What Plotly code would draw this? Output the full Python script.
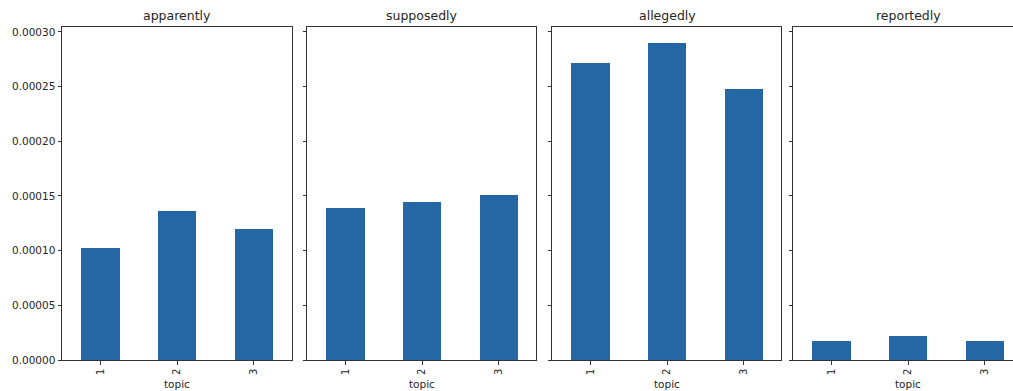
import plotly.graph_objects as go

# Relative frequency of each hedge word per topic
topics = ["1", "2", "3"]
words = ["apparently", "supposedly", "allegedly", "reportedly"]
apparently = [0.0001024, 0.0001363, 0.0001198]
supposedly = [0.0001390, 0.0001445, 0.0001509]
allegedly = [0.0002716, 0.0002895, 0.0002479]
reportedly = [0.0000174, 0.0000220, 0.0000174]
series = [apparently, supposedly, allegedly, reportedly]

y_ticks = [0, 0.00005, 0.0001, 0.00015, 0.0002, 0.00025, 0.0003]

W, H = 1013, 391
M_T, M_B = 27, 31
# panel edges in pixels
panels = [(62, 292), (307, 536), (552, 781), (793, 1013)]
unit_px = 230 / 3.0  # pixels per category step

BAR = "#2467a4"
LINE = "#333333"
TXT = "#262626"
FONT = "DejaVu Sans"

fig = go.Figure()
layout = dict(
    width=W, height=H, autosize=False,
    margin=dict(l=0, r=0, t=M_T, b=M_B),
    paper_bgcolor="white", plot_bgcolor="white",
    showlegend=False, bargap=0,
    font=dict(family=FONT, color=TXT),
)
annotations = []
xs = list(range(len(topics)))
for i, (vals, (x0, x1)) in enumerate(zip(series, panels)):
    n = "" if i == 0 else str(i + 1)
    fig.add_trace(go.Bar(x=xs, y=vals, width=0.5, marker_color=BAR,
                         marker_line_width=0, xaxis="x" + n, yaxis="y" + n,
                         hoverinfo="skip"))
    span = (x1 - x0) / unit_px
    layout["xaxis" + n] = dict(
        domain=[x0 / W, x1 / W], anchor="y" + n,
        range=[-0.5, -0.5 + span], tickvals=xs, ticktext=topics,
        tickangle=-90, ticks="outside", ticklen=3.5, tickwidth=0.8,
        tickcolor=LINE, showline=True, linecolor=LINE, linewidth=1,
        mirror=True, showgrid=False, zeroline=False, automargin=False,
        tickfont=dict(size=10, color=TXT, family=FONT), fixedrange=True,
    )
    yax = dict(
        domain=[0, 1], anchor="x" + n, range=[0, 0.0003045],
        tickvals=y_ticks, tickformat=".5f", ticks="outside", ticklen=3.5,
        tickwidth=0.8, tickcolor=LINE, showline=True, linecolor=LINE,
        linewidth=1, mirror=(i < 3), showgrid=False, zeroline=False,
        automargin=False, showticklabels=(i == 0),
        tickfont=dict(size=10.5, color=TXT, family=FONT), fixedrange=True,
    )
    if i > 0:
        yax["matches"] = "y"
    layout["yaxis" + n] = yax

    cx = (x0 + 0.5 * unit_px * 3 if i < 3 else x0 + 1.5 * unit_px) / W
    annotations.append(dict(text=words[i], x=cx, y=(H - M_B - 16) / (H - M_T - M_B),
                            xref="paper", yref="paper", showarrow=False,
                            xanchor="center", yanchor="middle",
                            font=dict(size=12.5, family=FONT, color=TXT)))
    annotations.append(dict(text="topic", x=cx, y=(H - M_B - 384) / (H - M_T - M_B),
                            xref="paper", yref="paper", showarrow=False,
                            xanchor="center", yanchor="middle",
                            font=dict(size=10.5, family=FONT, color=TXT)))

layout["annotations"] = annotations
fig.update_layout(**layout)
fig.write_html("out.html", config={"displayModeBar": False})
